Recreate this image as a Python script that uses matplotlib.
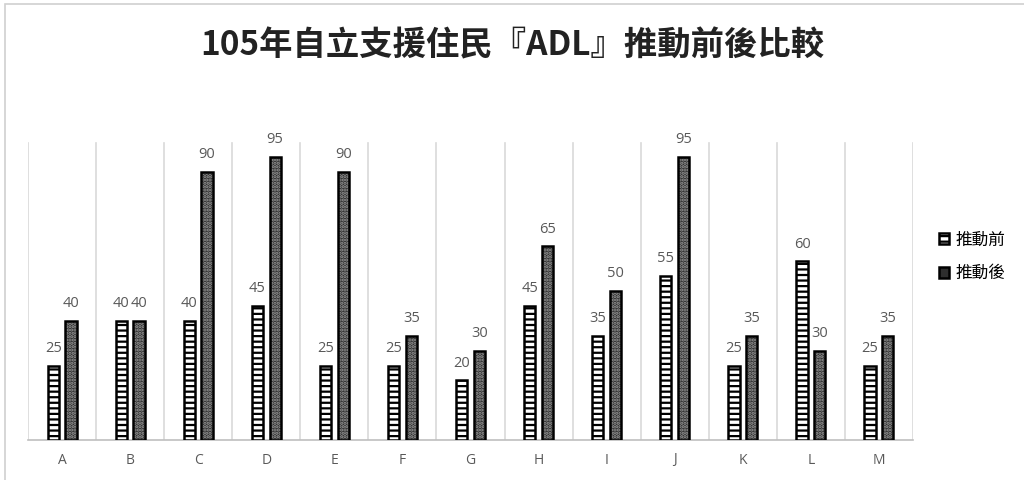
import matplotlib.pyplot as plt
import matplotlib.patches as mpatches
import numpy as np

# 住民ADL分數
residents = ['A', 'B', 'C', 'D', 'E', 'F', 'G', 'H', 'I', 'J', 'K', 'L', 'M']
before = [25, 40, 40, 45, 25, 25, 20, 45, 35, 55, 25, 60, 25]
after = [40, 40, 90, 95, 90, 35, 30, 65, 50, 95, 35, 30, 35]

cjk = ['Noto Sans CJK TC', 'DejaVu Sans']
plt.rcParams['hatch.linewidth'] = 1.6

fig = plt.figure(figsize=(10.24, 4.8), dpi=100)
ax = fig.add_axes([28/1024, 40/480, 885/1024, 300/480])

# 外框
fig.patches.append(mpatches.Rectangle((5/1024, -0.1), 1.2, 1 - 4/480 + 0.1,
                                      transform=fig.transFigure, fill=False,
                                      edgecolor='#d0d0d0', linewidth=1.2))

x = np.arange(len(residents))
w = 0.165
off = 0.13

b1 = ax.bar(x - off, before, w, facecolor='white', edgecolor='black',
            hatch='---', linewidth=1.8, zorder=3)
# 推動後：深灰底加淺色點
ax.bar(x + off, after, w, facecolor='#2e2e2e', edgecolor='#9a9a9a',
       hatch='.....', linewidth=0, zorder=3)
b2 = ax.bar(x + off, after, w, fill=False, edgecolor='black',
            linewidth=1.8, zorder=4)

for bars, vals in ((b1, before), (b2, after)):
    for r, v in zip(bars, vals):
        ax.annotate(str(v), (r.get_x() + r.get_width() / 2, v),
                    xytext=(0, 7), textcoords='offset points',
                    ha='center', va='bottom', fontsize=10.5,
                    color='#595959', family='Open Sans')

ax.set_xlim(-0.5, len(residents) - 0.5)
ax.set_ylim(0, 100.7)
for s in ['top', 'left', 'right']:
    ax.spines[s].set_visible(False)
ax.spines['bottom'].set_color('#bfbfbf')
ax.spines['bottom'].set_linewidth(1.2)
for g in np.arange(-0.5, len(residents), 1.0):
    ax.axvline(g, ymin=0, ymax=0.99, color='#d9d9d9', linewidth=1.2, zorder=1)

ax.set_yticks([])
ax.set_xticks(x)
ax.set_xticklabels(residents, fontsize=10, color='#595959', family='Open Sans')
ax.tick_params(axis='x', length=0, pad=9)

fig.text(0.5, 0.905, '105年自立支援住民『ADL』推動前後比較', ha='center',
         va='center', fontsize=24, fontweight='bold', family=cjk, color='#222222')

h1 = mpatches.Patch(facecolor='white', edgecolor='black', hatch='---', linewidth=1.8)
h2 = mpatches.Patch(facecolor='#2e2e2e', edgecolor='black', linewidth=1.8)
ax.legend([h1, h2], ['推動前', '推動後'], loc='center left',
          bbox_to_anchor=(1.012, 0.61), frameon=False, handlelength=0.65,
          handleheight=0.65, handletextpad=0.35, labelspacing=1.0,
          prop={'family': cjk, 'size': 12})

fig.savefig('out.png', dpi=100)
